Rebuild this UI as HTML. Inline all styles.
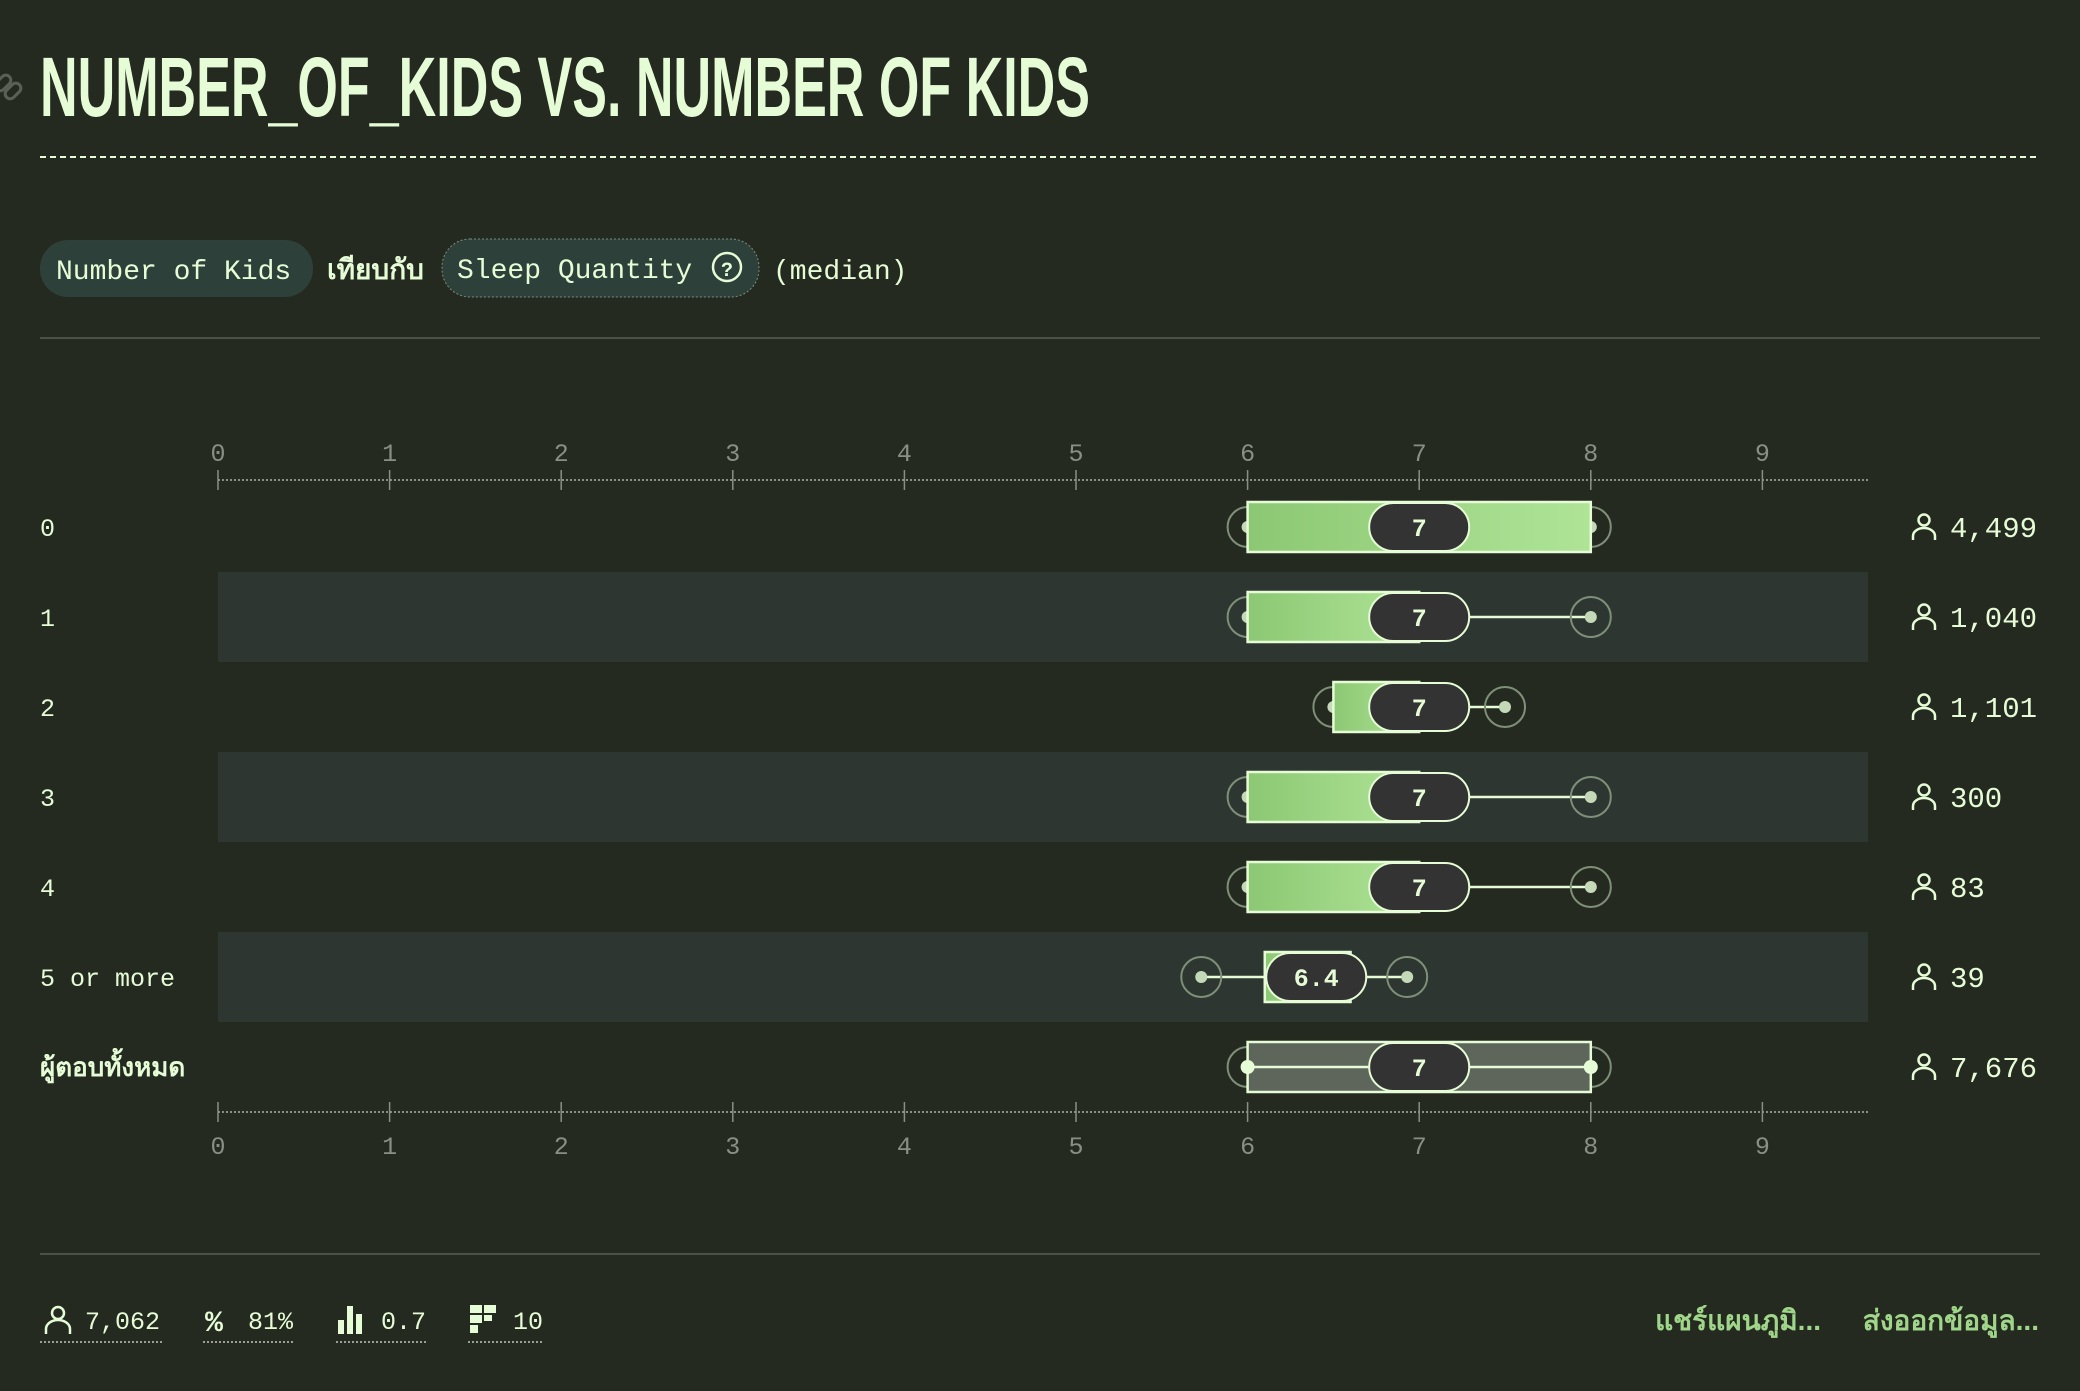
<!DOCTYPE html>
<html><head><meta charset="utf-8">
<style>
html,body{margin:0;padding:0;background:#252a21;}
body{width:2080px;height:1386px;overflow:hidden;font-family:"Liberation Mono","Noto Sans CJK SC",monospace;}
svg text{font-family:"Liberation Mono","Noto Sans CJK SC",monospace;}
</style></head>
<body>
<svg id="chart" width="2080" height="1386" viewBox="0 0 2080 1386" xmlns="http://www.w3.org/2000/svg">
<defs>
<linearGradient id="boxg" x1="0" y1="0" x2="1" y2="0">
<stop offset="0" stop-color="#8cc873"/><stop offset="1" stop-color="#afe497"/>
</linearGradient>
</defs>
<rect width="2080" height="1386" fill="#252a21"/>
<g fill="none" stroke="#5a6055" stroke-width="3">
<rect x="-6" y="78" width="18" height="10" rx="5" transform="rotate(-45 3 83)"/>
<rect x="4" y="86" width="18" height="10" rx="5" transform="rotate(-45 13 91)"/>
</g>
<text x="40" y="116" font-size="84" font-weight="bold" fill="#e6fcd6" style="font-family:'Liberation Sans Narrow','Liberation Sans',sans-serif" textLength="1050" lengthAdjust="spacingAndGlyphs">NUMBER_OF_KIDS VS. NUMBER OF KIDS</text>
<line x1="40" y1="157" x2="2040" y2="157" stroke="#e6fcd6" stroke-width="2" stroke-dasharray="6,4"/>
<g>
<rect x="40" y="240" width="273" height="57" rx="28" fill="#2e403a"/>
<text x="56" y="279" font-size="28" fill="#e6fcd6">Number of Kids</text>
<text x="327" y="279" font-size="28" font-weight="bold" fill="#e6fcd6" style="font-family:'Liberation Sans','Noto Sans CJK SC',sans-serif">เทียบกับ</text>
<rect x="442" y="239" width="317" height="58" rx="28" fill="#2e403a" stroke="#7b8c80" stroke-width="1" stroke-dasharray="2,2"/>
<text x="457" y="278" font-size="28" fill="#e6fcd6">Sleep Quantity</text>
<circle cx="727" cy="267" r="14" fill="none" stroke="#e6fcd6" stroke-width="2.5"/>
<text x="727" y="276" font-size="20" font-weight="bold" fill="#e6fcd6" text-anchor="middle">?</text>
<text x="773" y="279" font-size="28" fill="#e6fcd6">(median)</text>
</g>
<line x1="40" y1="338" x2="2040" y2="338" stroke="#4a4f48" stroke-width="2"/>
<g id="plot"></g>
<line x1="40" y1="1254" x2="2040" y2="1254" stroke="#4a4f48" stroke-width="2"/>
<g fill="#e6fcd6">
<g>
<circle cx="58" cy="1313" r="6" fill="none" stroke="#e6fcd6" stroke-width="2.5"/>
<path d="M46 1334 v-5 a12 9 0 0 1 24 0 v5" fill="none" stroke="#e6fcd6" stroke-width="2.5"/>
<text x="85" y="1329" font-size="25">7,062</text>
<line x1="40" y1="1342" x2="163" y2="1342" stroke="#9a9f95" stroke-width="2" stroke-dasharray="2,2"/>
</g>
<g>
<text x="205" y="1331" font-size="30" font-weight="bold">%</text>
<text x="248" y="1329" font-size="25">81%</text>
<line x1="203" y1="1342" x2="295" y2="1342" stroke="#9a9f95" stroke-width="2" stroke-dasharray="2,2"/>
</g>
<g>
<rect x="338" y="1320" width="6" height="14"/><rect x="347" y="1306" width="6" height="28"/><rect x="356" y="1314" width="6" height="20"/>
<text x="381" y="1329" font-size="25">0.7</text>
<line x1="336" y1="1342" x2="428" y2="1342" stroke="#9a9f95" stroke-width="2" stroke-dasharray="2,2"/>
</g>
<g>
<rect x="470" y="1305" width="12" height="8"/><rect x="484" y="1305" width="12" height="8"/><rect x="470" y="1315" width="12" height="8"/><rect x="484" y="1315" width="8" height="6"/><rect x="470" y="1325" width="8" height="8"/>
<text x="513" y="1329" font-size="25">10</text>
<line x1="468" y1="1342" x2="544" y2="1342" stroke="#9a9f95" stroke-width="2" stroke-dasharray="2,2"/>
</g>
</g>
<text x="1821" y="1330" font-size="28" font-weight="bold" fill="#9fd68a" text-anchor="end" style="font-family:'Liberation Sans','Noto Sans CJK SC',sans-serif">แชร์แผนภูมิ...</text>
<text x="2039" y="1330" font-size="28" font-weight="bold" fill="#9fd68a" text-anchor="end" style="font-family:'Liberation Sans','Noto Sans CJK SC',sans-serif">ส่งออกข้อมูล...</text>
</svg>
<script>
const categories = ["0","1","2","3","4","5 or more","ผู้ตอบทั้งหมด"];
const medians = [7,7,7,7,7,6.4,7];
const q1s = [6,6,6.5,6,6,6.1,6];
const q3s = [8,7,7,7,7,6.6,8];
const mins = [6,6,6.5,6,6,5.73,6];
const maxs = [8,8,7.5,8,8,6.93,8];
const counts = ["4,499","1,040","1,101","300","83","39","7,676"];
const ticks = [0,1,2,3,4,5,6,7,8,9];

const NS = "http://www.w3.org/2000/svg";
const plot = document.getElementById('plot');
const X0 = 218, UNIT = 171.6, PLOT_R = 1868;
const ROW0 = 527, ROWH = 90;
function xs(v){ return X0 + v*UNIT; }
function ys(i){ return ROW0 + i*ROWH; }
function mk(tag, attrs, parent){
  const e = document.createElementNS(NS, tag);
  for (const k in attrs) e.setAttribute(k, attrs[k]);
  (parent||plot).appendChild(e);
  return e;
}
categories.forEach((c,i)=>{
  if (i%2===1){
    const b = mk('rect',{x:X0,y:ys(i)-45,width:PLOT_R-X0,height:ROWH,fill:'#2d3630'});
    
    
  }
});
[[480,461],[1112,1154]].forEach(([ly,ty],ai)=>{
  const ax = mk('g',{});
  
  
  mk('line',{x1:X0,y1:ly,x2:PLOT_R,y2:ly,stroke:'#8a8f85','stroke-width':2,'stroke-dasharray':'2,2'},ax);
  ticks.forEach(t=>{
    mk('line',{x1:xs(t),y1:ly-10,x2:xs(t),y2:ly+10,stroke:'#8a8f85','stroke-width':1.5},ax);
    const tl = mk('text',{x:xs(t),y:ty,'font-size':25,fill:'#8a8f85','text-anchor':'middle'},ax);
    tl.textContent = t;
    
    
  });
});
categories.forEach((c,i)=>{
  const y = ys(i);
  const total = i===categories.length-1;
  const g = mk('g',{});
  
  
  const lab = mk('text',{x:40,y:y+9,'font-size':total?26:25,fill:'#e6fcd6','font-weight':total?'bold':'normal'},g);
  if (total) lab.setAttribute('style',"font-family:'Liberation Sans','Noto Sans CJK SC',sans-serif");
  lab.textContent = c;
  
  
  const wl = mk('line',{x1:xs(mins[i]),y1:y,x2:xs(maxs[i]),y2:y,stroke:'#e6fcd6','stroke-width':2.5},g);
  
  
  [mins[i],maxs[i]].forEach(v=>{
    const cc = mk('circle',{cx:xs(v),cy:y,r:20,fill:'none',stroke:'#7f8f78','stroke-width':2},g);
    
    
    mk('circle',{cx:xs(v),cy:y,r:6,fill:'#c5d8b8'},g);
  });
  const bx = mk('rect',{x:xs(q1s[i]),y:y-25,width:xs(q3s[i])-xs(q1s[i]),height:50,fill:total?'#5e655b':'url(#boxg)',stroke:'#e6fcd6','stroke-width':2.5},g);
  
  
  if (total){
    mk('line',{x1:xs(mins[i]),y1:y,x2:xs(maxs[i]),y2:y,stroke:'#e6fcd6','stroke-width':2.5},g);
    [mins[i],maxs[i]].forEach(v=>mk('circle',{cx:xs(v),cy:y,r:7,fill:'#e6fcd6'},g));
  }
  const pill = mk('rect',{x:xs(medians[i])-50,y:y-24,width:100,height:48,rx:24,fill:'#333333',stroke:'#e6fcd6','stroke-width':2},g);
  
  
  const mt = mk('text',{x:xs(medians[i]),y:y+9,'font-size':25,'font-weight':'bold',fill:'#e6fcd6','text-anchor':'middle'},g);
  mt.textContent = medians[i];
  
  
  const ct = mk('text',{x:1950,y:y+10,'font-size':29,fill:'#e6fcd6'},g);
  ct.textContent = counts[i];
  
  
  const ix = 1924;
  const ic = mk('g',{},g);
  
  
  mk('circle',{cx:ix,cy:y-7,r:5.5,fill:'none',stroke:'#e6fcd6','stroke-width':2.5},ic);
  mk('path',{d:`M${ix-11} ${y+13} v-4 a11 8 0 0 1 22 0 v4`,fill:'none',stroke:'#e6fcd6','stroke-width':2.5},ic);
});
</script>
</body></html>
